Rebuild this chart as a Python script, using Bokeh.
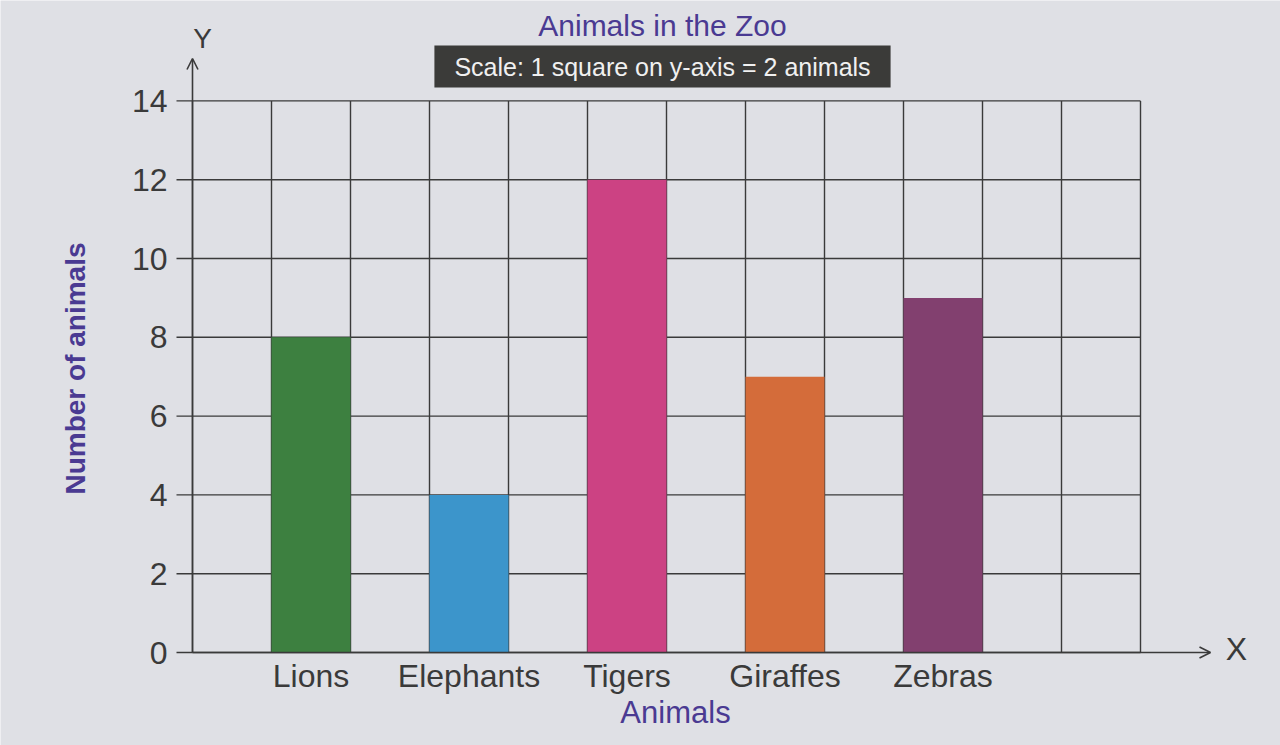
from bokeh.plotting import figure
from bokeh.models import ColumnDataSource, Range1d, Label, Arrow, OpenHead
from bokeh.core.properties import value
from bokeh.embed import file_html
from bokeh.resources import INLINE

# ---- data ----
categories = ["Lions", "Elephants", "Tigers", "Giraffes", "Zebras"]
counts = [8, 4, 12, 7, 9]
bar_colors = ["#3d8040", "#3c95cb", "#cc4283", "#d46c3a", "#82406f"]
y_ticks = [0, 2, 4, 6, 8, 10, 12, 14]
n_columns = 12  # grid squares along x

title_text = "Animals in the Zoo"
scale_text = "Scale: 1 square on y-axis = 2 animals"
y_title = "Number of animals"
x_title = "Animals"

# ---- style ----
FONT = "Liberation Sans"
INK = "#3a3a3a"
PURPLE = "#4a3a92"
BG = "#dfe0e5"

# pixel mapping: x=0 at 192px, 79px per square; y=0 at 652px from top, 39.4px per unit
W, H = 1280, 745
X0, SX = 192, 79.0
Y0, SY = 652, 39.4

x_pos = [2 * i + 1.5 for i in range(len(categories))]
y_max = y_ticks[-1]

src = ColumnDataSource(dict(x=x_pos, top=counts, color=bar_colors, name=categories))

p = figure(width=W, height=H, output_backend="svg", toolbar_location=None,
           x_range=Range1d(-X0 / SX, (W - X0) / SX),
           y_range=Range1d(-(H - Y0) / SY, Y0 / SY),
           x_axis_type=None, y_axis_type=None, min_border=0)
p.background_fill_color = BG
p.border_fill_color = BG
p.outline_line_color = None
p.grid.visible = False

# grid squares
vx = list(range(n_columns + 1))
p.segment(x0=vx, y0=[0] * len(vx), x1=vx, y1=[y_max] * len(vx),
          line_color=INK, line_width=1.4)
p.segment(x0=[0] * len(y_ticks), y0=y_ticks, x1=[n_columns] * len(y_ticks), y1=y_ticks,
          line_color=INK, line_width=1.4)

# bars
p.vbar(x="x", top="top", bottom=0, width=1.0, color="color", source=src, line_color=None)

# y ticks and labels
tick_len = 16 / SX
p.segment(x0=[-tick_len] * len(y_ticks), y0=y_ticks, x1=[0] * len(y_ticks), y1=y_ticks,
          line_color=INK, line_width=1.4)
p.text(x=[-tick_len - 9 / SX] * len(y_ticks), y=y_ticks, text=[str(t) for t in y_ticks],
       text_align="right", text_baseline="middle", text_font=value(FONT),
       text_font_size=value("32px"), text_color=INK)

# category labels
p.text(x="x", y=-23 / SY, text="name", source=src, text_align="center",
       text_baseline="middle", text_font=value(FONT), text_font_size=value("32px"),
       text_color=INK)

# axes arrows
p.add_layout(Arrow(end=OpenHead(size=11, line_color=INK, line_width=1.6),
                   x_start=0, y_start=0, x_end=0, y_end=(Y0 - 58) / SY,
                   line_color=INK, line_width=1.6))
p.add_layout(Arrow(end=OpenHead(size=11, line_color=INK, line_width=1.6),
                   x_start=0, y_start=0, x_end=(1210 - X0) / SX, y_end=0,
                   line_color=INK, line_width=1.6))

# texts
p.add_layout(Label(x=(662 - X0) / SX, y=(Y0 - 25) / SY, text=title_text,
                   text_align="center", text_baseline="middle", text_font=FONT,
                   text_font_size="30px", text_color=PURPLE))
p.add_layout(Label(x=(662 - X0) / SX, y=(Y0 - 66) / SY, text=scale_text,
                   text_align="center", text_baseline="middle", text_font=FONT,
                   text_font_size="25px", text_color="#f0f0f0",
                   background_fill_color="#3b3b39", padding=(20, 7)))
p.add_layout(Label(x=(75 - X0) / SX, y=(Y0 - 368) / SY, text=y_title, angle=1.5708,
                   text_align="center", text_baseline="middle", text_font=FONT,
                   text_font_size="28px", text_font_style="bold", text_color=PURPLE))
p.add_layout(Label(x=(675 - X0) / SX, y=(Y0 - 712) / SY, text=x_title,
                   text_align="center", text_baseline="middle", text_font=FONT,
                   text_font_size="31px", text_color=PURPLE))
p.add_layout(Label(x=(202 - X0) / SX, y=(Y0 - 38) / SY, text="Y",
                   text_align="center", text_baseline="middle", text_font=FONT,
                   text_font_size="28px", text_color=INK))
p.add_layout(Label(x=(1236 - X0) / SX, y=(Y0 - 648) / SY, text="X",
                   text_align="center", text_baseline="middle", text_font=FONT,
                   text_font_size="32px", text_color=INK))

open("out.html", "w").write(file_html(p, INLINE))
